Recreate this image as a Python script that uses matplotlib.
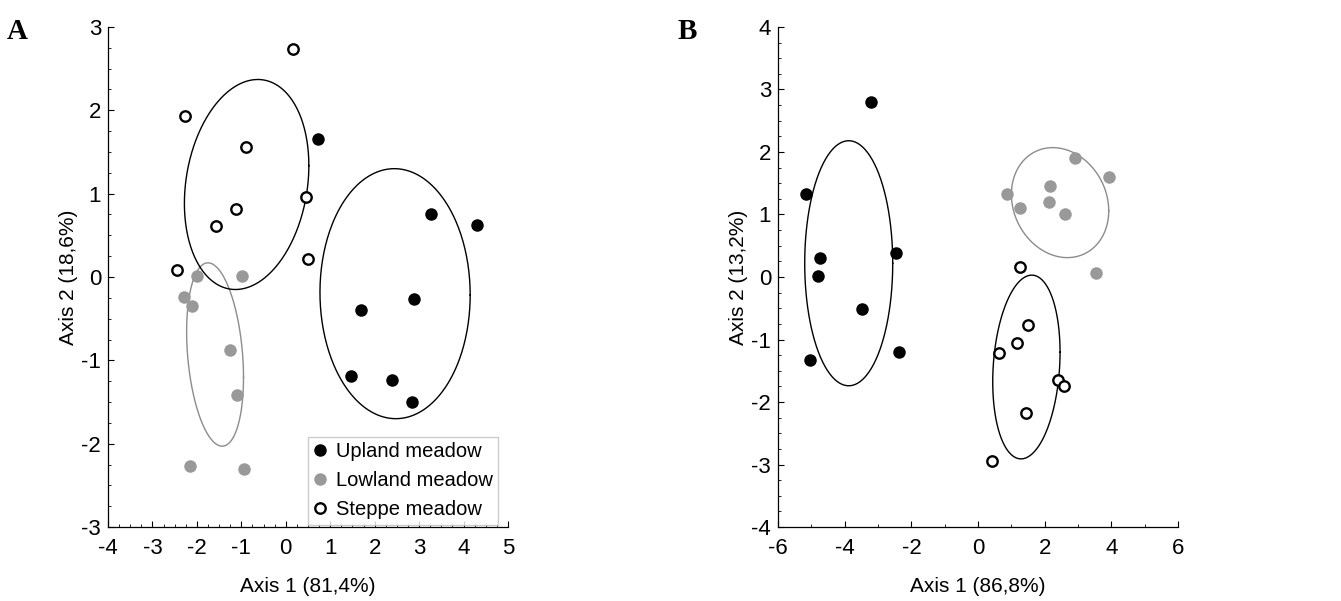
import numpy as np
import matplotlib
matplotlib.use("Agg")
import matplotlib.pyplot as plt
from matplotlib.ticker import MultipleLocator

plt.rcParams['font.family'] = ['Liberation Sans', 'DejaVu Sans']
plt.rcParams['axes.unicode_minus'] = False

groups = ["Upland meadow", "Lowland meadow", "Steppe meadow"]

# panel A scores
a_upland_x = [0.73, 3.27, 4.30, 2.89, 1.69, 1.46, 2.40, 2.84]
a_upland_y = [1.65, 0.76, 0.62, -0.26, -0.40, -1.19, -1.24, -1.50]
a_lowland_x = [-2.00, -0.98, -2.28, -2.12, -1.26, -1.09, -2.16, -0.93]
a_lowland_y = [0.01, 0.01, -0.24, -0.35, -0.87, -1.42, -2.27, -2.30]
a_steppe_x = [0.17, -2.27, -0.90, 0.46, -1.11, -1.58, 0.51, -2.45]
a_steppe_y = [2.74, 1.93, 1.56, 0.96, 0.82, 0.61, 0.22, 0.08]

# panel B scores
b_upland_x = [-3.22, -5.16, -4.73, -4.79, -2.46, -3.48, -2.38, -5.03]
b_upland_y = [2.80, 1.33, 0.30, 0.01, 0.38, -0.51, -1.20, -1.33]
b_lowland_x = [2.92, 3.94, 0.86, 2.16, 1.27, 2.14, 2.62, 3.55]
b_lowland_y = [1.90, 1.60, 1.33, 1.45, 1.10, 1.20, 1.00, 0.07]
b_steppe_x = [1.26, 1.51, 1.16, 0.64, 2.40, 2.59, 1.43, 0.43]
b_steppe_y = [0.16, -0.77, -1.06, -1.22, -1.65, -1.75, -2.18, -2.94]

# ellipses: centre x, centre y, half width, half height, correlation
a_ellipses = [(2.46, -0.20, 1.69, 1.50, -0.01),
              (-1.59, -0.93, 0.64, 1.10, -0.25),
              (-0.88, 1.11, 1.40, 1.26, 0.18)]
b_ellipses = [(-3.88, 0.22, 1.32, 1.96, 0.0),
              (2.46, 1.19, 1.46, 0.88, -0.15),
              (1.45, -1.44, 1.01, 1.47, 0.16)]

GRAY = '#999999'
ell_colors = ['black', '#8c8c8c', 'black']


def draw_ellipse(ax, e, color):
    cx, cy, rx, ry, r = e
    t = np.linspace(0, 2 * np.pi, 300)
    x = cx + rx * np.cos(t)
    y = cy + ry * (r * np.cos(t) + np.sqrt(1 - r * r) * np.sin(t))
    ax.plot(x, y, color=color, lw=1.0, zorder=1)


def draw_panel(ax, up, low, st, ells):
    for e, c in zip(ells, ell_colors):
        draw_ellipse(ax, e, c)
    h1, = ax.plot(up[0], up[1], 'o', ls='none', ms=9, mfc='black', mec='black', mew=0, zorder=3)
    h2, = ax.plot(low[0], low[1], 'o', ls='none', ms=9, mfc=GRAY, mec=GRAY, mew=0, zorder=3)
    h3, = ax.plot(st[0], st[1], 'o', ls='none', ms=7.5, mfc='white', mec='black', mew=1.7, zorder=3)
    for s in ['top', 'right']:
        ax.spines[s].set_visible(False)
    for s in ['left', 'bottom']:
        ax.spines[s].set_linewidth(0.9)
    ax.tick_params(which='major', direction='in', length=4, width=0.8, labelsize=16, pad=5)
    ax.tick_params(which='minor', direction='in', length=2, width=0.6)
    ax.tick_params(axis='x', which='major', pad=8)
    return [h1, h2, h3]


fig = plt.figure(figsize=(13.41, 6.01), dpi=100)
axA = fig.add_axes([0.0805, 0.1231, 0.2983, 0.832])
axB = fig.add_axes([0.5802, 0.1231, 0.2983, 0.832])

handles = draw_panel(axA, (a_upland_x, a_upland_y), (a_lowland_x, a_lowland_y),
                     (a_steppe_x, a_steppe_y), a_ellipses)
axA.set_xlim(-4, 5)
axA.set_ylim(-3, 3)
axA.xaxis.set_major_locator(MultipleLocator(1))
axA.xaxis.set_minor_locator(MultipleLocator(0.25))
axA.yaxis.set_major_locator(MultipleLocator(1))
axA.yaxis.set_minor_locator(MultipleLocator(0.25))
axA.set_xlabel("Axis 1 (81,4%)", fontsize=15, labelpad=13)
axA.set_ylabel("Axis 2 (18,6%)", fontsize=15, labelpad=2)

leg = axA.legend(handles, groups, loc='lower right', bbox_to_anchor=(0.975, 0.005),
                 fontsize=14.5, frameon=True, fancybox=False, borderpad=0.25,
                 labelspacing=0.5, handlelength=0.7, handletextpad=0.45, borderaxespad=0)
leg.get_frame().set_edgecolor('#c0c0c0')
leg.get_frame().set_linewidth(1.0)

draw_panel(axB, (b_upland_x, b_upland_y), (b_lowland_x, b_lowland_y),
           (b_steppe_x, b_steppe_y), b_ellipses)
axB.set_xlim(-6, 6)
axB.set_ylim(-4, 4)
axB.xaxis.set_major_locator(MultipleLocator(2))
axB.xaxis.set_minor_locator(MultipleLocator(1))
axB.yaxis.set_major_locator(MultipleLocator(1))
axB.yaxis.set_minor_locator(MultipleLocator(0.25))
axB.set_xlabel("Axis 1 (86,8%)", fontsize=15, labelpad=13)
axB.set_ylabel("Axis 2 (13,2%)", fontsize=15, labelpad=2)

fig.text(0.005, 0.935, "A", fontsize=21, fontweight='bold', family='Liberation Serif')
fig.text(0.505, 0.935, "B", fontsize=21, fontweight='bold', family='Liberation Serif')

fig.savefig("out.png", dpi=100)
